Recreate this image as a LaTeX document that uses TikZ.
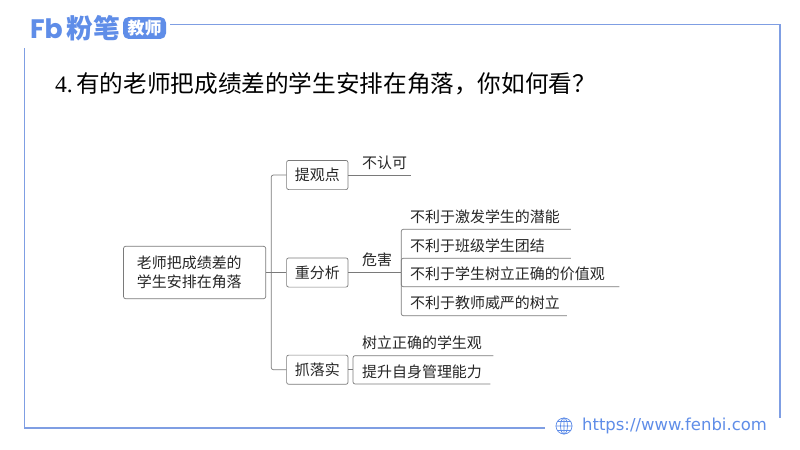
\documentclass[tikz,border=0pt]{standalone}
\usepackage{fontspec}
\setmainfont{Noto Sans CJK SC}
\newfontfamily\numfont{Liberation Serif}
\newfontfamily\logofont{Poppins}
\newfontfamily\urlfont{DejaVu Sans}
\definecolor{framecolor}{HTML}{7F9EE3}
\definecolor{logocolor}{HTML}{5F8DE8}
\definecolor{linecolor}{HTML}{7A7A7A}
\definecolor{textcolor}{HTML}{262626}
\tikzset{
  bodytext/.style={text=textcolor,font=\fontsize{21.3}{27.7}\selectfont},
  topicbox/.style={bodytext,draw=linecolor,line width=1pt,rounded corners=3pt,inner sep=0pt,
    minimum width=3.07cm,minimum height=1.46cm},
  leaf/.style 2 args={bodytext,anchor=south west,inner xsep=0pt,inner ysep=0pt,
    minimum height=1.25cm,text width=#1,align=left,execute at begin node={\hspace*{#2}}},
  link/.style={draw=linecolor,line width=1pt,rounded corners=3pt},
  framerule/.style={draw=framecolor,line width=2pt},
}
\begin{document}
\begin{tikzpicture}[x=0.05cm,y=-0.05cm]
  \useasboundingbox[fill=white] (0,0) rectangle (800,450);
  % frame
  \draw[framerule] (170,24.5) -- (780,24.5) -- (780,418);
  \draw[framerule] (24.5,48) -- (24.5,428) -- (545,428);
  % logo and title
  \draw
    (46.5,29) node[text=logocolor,font=\logofont\fontsize{38}{38}\selectfont\bfseries,inner sep=0pt] (brand){Fb}
    (93.5,28) node[text=logocolor,font=\fontsize{38}{38}\selectfont\bfseries,inner sep=0pt] (fenbi){粉笔}
    (144.5,28) node[fill=logocolor,text=white,font=\fontsize{24}{24}\selectfont\bfseries,rounded corners=8pt,
      inner sep=0pt,minimum width=2.15cm,minimum height=1.1cm] (badge){教师}
    (55,84) node[anchor=west,inner sep=0pt,text=black,font=\fontsize{33.6}{36}\selectfont] (title){{\numfont 4.\kern5pt}有的老师把成绩差的学生安排在角落，你如何看？};
  % mind map
  \draw
    (194.6,272.5) node[topicbox,minimum height=2.62cm,inner xsep=.67cm,text width=5.77cm,align=left] (root){老师把成绩差的\\学生安排在角落}
    (317.3,175) node[topicbox] (view){提观点}
    (317.3,272.5) node[topicbox] (analysis){重分析}
    (317.3,369.7) node[topicbox] (action){抓落实}
    (348,175) node[leaf={3.13cm}{.7cm}] (disagree){不认可}
    (348,272.5) node[leaf={2.65cm}{.7cm}] (harm){危害}
    (401,229.3) node[leaf={8.48cm}{.45cm}] (harma){不利于激发学生的潜能}
    (401,258.3) node[leaf={8.48cm}{.45cm}] (harmb){不利于班级学生团结}
    (401,286.7) node[leaf={10.9cm}{.45cm}] (harmc){不利于学生树立正确的价值观}
    (401,315.7) node[leaf={8.28cm}{.45cm}] (harmd){不利于教师威严的树立}
    (353,355.7) node[leaf={7cm}{.45cm}] (stepa){树立正确的学生观}
    (353,384) node[leaf={6.85cm}{.45cm}] (stepb){提升自身管理能力};
  \coordinate (hub) at (271.3,272.5);
  \coordinate (fork) at (353,369.7);
  \begin{scope}[link]
    \draw (root.east) to (analysis.west);
    \draw (hub) |- (view.west);
    \draw (hub) |- (action.west);
    \draw (view.east) to (disagree.south east);
    \draw (analysis.east) to (harm.south east);
    \draw (harm.south east) |- (harma.south east);
    \draw (harm.south east) |- (harmb.south east);
    \draw (harm.south east) |- (harmc.south east);
    \draw (harm.south east) |- (harmd.south east);
    \draw (action.east) to (fork);
    \draw (fork) |- (stepa.south east);
    \draw (fork) |- (stepb.south east);
  \end{scope}
  % web address
  \draw[draw=logocolor,line width=1pt]
    (564,426) node[circle,draw,inner sep=0pt,minimum size=.8cm] (globe){}
    (globe.center) ellipse (3.5 and 8)
    (globe.north) -- (globe.south)
    (globe.west) -- (globe.east)
    (557,421.5) -- (571,421.5)
    (557,430.5) -- (571,430.5);
  \draw (582,426) node[anchor=west,inner sep=0pt,text=logocolor,font=\urlfont\fontsize{23.4}{23.4}\selectfont] (url){https://www.fenbi.com};
\end{tikzpicture}
\end{document}
